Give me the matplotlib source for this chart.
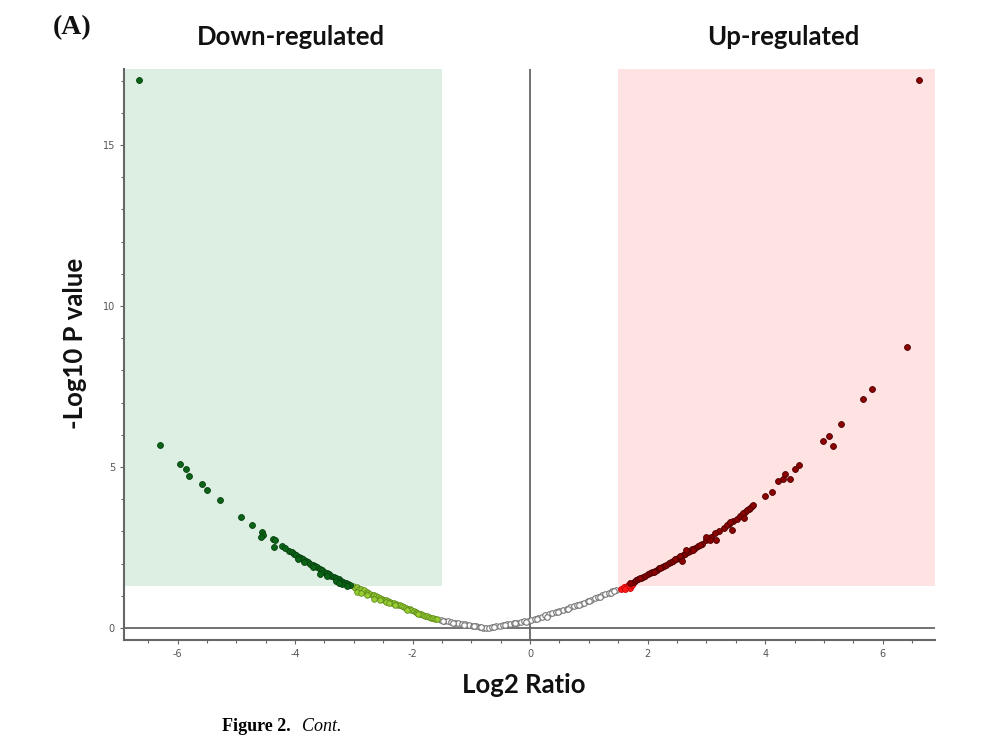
import matplotlib
matplotlib.use("Agg")
import matplotlib.pyplot as plt
from matplotlib.ticker import MultipleLocator

plt.rcParams['axes.unicode_minus'] = False

# ---- data ----
gray_x = [-1.52, -1.46, -1.40, -1.34, -1.28, -1.22, -1.16, -1.10, -1.04, -0.98,
          -0.92, -0.86, -0.80, -0.75, -0.70, -0.64, -0.58, -0.52, -0.46, -0.40,
          -0.34, -0.28, -0.22, -0.16, -0.10, -0.04, 0.02, 0.08, 0.14, 0.20,
          0.26, 0.32, 0.38, 0.44, 0.50, 0.56, 0.62, 0.68, 0.74, 0.80,
          0.86, 0.92, 0.98, 1.04, 1.10, 1.16, 1.22, 1.28, 1.34, 1.40, 1.46,
          -1.49, -1.31, -1.13, -0.95, -0.83, -0.61, -0.43, -0.25, -0.07, 0.11,
          0.29, 0.47, 0.65, 0.83, 1.01, 1.19, 1.37, 1.43]
gray_y = [0.25, 0.23, 0.21, 0.19, 0.17, 0.15, 0.13, 0.11, 0.09, 0.07,
          0.05, 0.03, 0.01, 0.00, 0.01, 0.03, 0.05, 0.07, 0.09, 0.11,
          0.13, 0.15, 0.17, 0.19, 0.21, 0.23, 0.26, 0.29, 0.32, 0.35,
          0.39, 0.42, 0.46, 0.49, 0.53, 0.56, 0.60, 0.64, 0.67, 0.71,
          0.75, 0.79, 0.83, 0.88, 0.92, 0.96, 1.01, 1.05, 1.10, 1.14, 1.18,
          0.22, 0.16, 0.10, 0.05, 0.04, 0.02, 0.08, 0.14, 0.20, 0.28,
          0.35, 0.49, 0.60, 0.70, 0.84, 0.97, 1.10, 1.15]

lgreen_x = [-3.02, -2.98, -2.95, -2.92, -2.88, -2.85, -2.82, -2.78, -2.75, -2.72,
            -2.68, -2.65, -2.62, -2.58, -2.55, -2.52, -2.48, -2.45, -2.42, -2.38,
            -2.35, -2.32, -2.28, -2.25, -2.22, -2.18, -2.15, -2.12, -2.08, -2.05,
            -2.02, -1.98, -1.95, -1.92, -1.88, -1.85, -1.82, -1.78, -1.75, -1.72,
            -1.68, -1.65, -1.62, -1.58,
            -2.95, -2.88, -2.78, -2.65, -2.55, -2.45, -2.40, -2.30, -2.10, -1.90]
lgreen_y = [1.30, 1.24, 1.27, 1.20, 1.22, 1.15, 1.18, 1.12, 1.10, 1.07,
            1.04, 1.02, 0.98, 0.96, 0.93, 0.91, 0.88, 0.86, 0.84, 0.81,
            0.79, 0.77, 0.74, 0.72, 0.70, 0.67, 0.65, 0.63, 0.60, 0.58,
            0.55, 0.52, 0.50, 0.48, 0.45, 0.43, 0.41, 0.38, 0.36, 0.34,
            0.32, 0.30, 0.28, 0.27,
            1.12, 1.08, 1.02, 0.90, 0.86, 0.80, 0.78, 0.70, 0.57, 0.44]

dgreen_x = [-4.10, -4.06, -4.02, -3.98, -3.94, -3.90, -3.86, -3.82, -3.78, -3.74,
            -3.70, -3.66, -3.62, -3.58, -3.54, -3.50, -3.46, -3.42, -3.38, -3.34,
            -3.30, -3.26, -3.22, -3.18, -3.14, -3.10, -3.06,
            -3.95, -3.85, -3.70, -3.57, -3.45, -3.30, -3.20, -3.12, -3.25,
            -6.30, -5.96, -5.86, -5.80, -5.58, -5.49, -5.27, -4.92, -4.73, -4.56,
            -4.54, -4.58, -4.38, -4.34, -4.35, -4.22, -4.17, -6.65]
dgreen_y = [2.40, 2.36, 2.31, 2.27, 2.22, 2.18, 2.14, 2.09, 2.05, 2.00,
            1.96, 1.92, 1.88, 1.84, 1.79, 1.75, 1.71, 1.67, 1.63, 1.59,
            1.55, 1.51, 1.47, 1.44, 1.40, 1.36, 1.33,
            2.15, 2.05, 1.88, 1.68, 1.60, 1.45, 1.38, 1.30, 1.40,
            5.67, 5.10, 4.93, 4.71, 4.47, 4.30, 3.98, 3.44, 3.20, 2.99,
            2.90, 2.83, 2.75, 2.72, 2.51, 2.56, 2.47, 17.02]

bred_x = [1.55, 1.60, 1.65, 1.70, 1.74, 1.62, 1.68]
bred_y = [1.22, 1.27, 1.30, 1.25, 1.33, 1.21, 1.34]

dred_x = [1.76, 1.80, 1.84, 1.88, 1.92, 1.96, 2.00, 2.04, 2.08, 2.12,
          2.16, 2.20, 2.24, 2.28, 2.32, 2.36, 2.40, 2.44, 2.48, 2.52,
          2.56, 2.60, 2.64, 2.68, 2.72, 2.76, 2.80, 2.86, 2.92, 3.00,
          3.08, 3.22, 3.30, 3.38, 3.45, 3.52, 3.60, 3.66, 3.72, 3.78,
          1.70, 1.87, 2.10, 2.21, 2.47, 2.55, 2.59, 2.66, 2.78, 2.89,
          3.00, 3.06, 3.14, 3.17, 3.35, 3.40, 3.44, 3.57, 3.62, 3.64,
          3.69, 3.74, 3.79, 4.00, 4.11, 4.22, 4.31, 4.33, 4.43, 4.51,
          4.58, 4.99, 5.08, 5.16, 5.29, 5.67, 5.81, 6.41, 6.62]
dred_y = [1.44, 1.48, 1.51, 1.55, 1.59, 1.63, 1.67, 1.70, 1.74, 1.77,
          1.81, 1.85, 1.89, 1.93, 1.97, 2.01, 2.05, 2.09, 2.14, 2.18,
          2.22, 2.27, 2.31, 2.35, 2.40, 2.44, 2.49, 2.55, 2.62, 2.73,
          2.83, 3.01, 3.12, 3.22, 3.32, 3.40, 3.52, 3.60, 3.70, 3.78,
          1.39, 1.54, 1.75, 1.85, 2.13, 2.25, 2.09, 2.42, 2.42, 2.58,
          2.83, 2.73, 2.94, 2.73, 3.21, 3.28, 3.04, 3.47, 3.57, 3.41,
          3.65, 3.72, 3.82, 4.11, 4.23, 4.56, 4.62, 4.78, 4.62, 4.94,
          5.05, 5.81, 5.96, 5.66, 6.34, 7.11, 7.41, 8.72, 17.02]

fc_cut = 1.5      # |log2 ratio| threshold
p_cut = 1.3       # -log10 p threshold
x_ticks = [-6, -4, -2, 0, 2, 4, 6]
y_ticks = [0, 5, 10, 15]

fig = plt.figure(figsize=(9.93, 7.37), dpi=100)
ax = fig.add_axes([0.1249, 0.1316, 0.8167, 0.7748])
ax.set_xlim(-6.91, 6.89)
ax.set_ylim(-0.373, 17.36)

# shaded significance regions
ax.axvspan(-6.91, -fc_cut, ymin=(p_cut + 0.373) / 17.733, ymax=1,
           color='#ddefe2', lw=0, zorder=0)
ax.axvspan(fc_cut, 6.89, ymin=(p_cut + 0.373) / 17.733, ymax=1,
           color='#ffe2e2', lw=0, zorder=0)

ax.axhline(0, color='#666666', lw=1.3, zorder=1)
ax.axvline(0, color='#666666', lw=1.3, zorder=1)

ax.scatter(gray_x, gray_y, s=16, facecolor='white', edgecolor='#777777', lw=0.8, zorder=3)
ax.scatter(lgreen_x, lgreen_y, s=16, facecolor='#9acd32', edgecolor='#5a8a1a', lw=0.6, zorder=3)
ax.scatter(dgreen_x, dgreen_y, s=18, facecolor='#0b6416', edgecolor='#064010', lw=0.6, zorder=4)
ax.scatter(bred_x, bred_y, s=18, facecolor='#ff1a1a', edgecolor='#cc0000', lw=0.6, zorder=4)
ax.scatter(dred_x, dred_y, s=18, facecolor='#8b0000', edgecolor='#4a0000', lw=0.6, zorder=4)

for side in ['top', 'right']:
    ax.spines[side].set_visible(False)
for side in ['left', 'bottom']:
    ax.spines[side].set_color('#666666')
    ax.spines[side].set_linewidth(1.5)

ax.set_xticks(x_ticks)
ax.set_yticks(y_ticks)
ax.xaxis.set_minor_locator(MultipleLocator(0.5))
ax.yaxis.set_minor_locator(MultipleLocator(1))
ax.tick_params(which='both', direction='out', colors='#666666', labelcolor='#555555',
               labelsize=7, length=3, width=0.8)
ax.tick_params(which='minor', length=2)

lab = dict(family=['Lato', 'DejaVu Sans'], weight='bold', size=18.5, color='#111111')
fig.text(0.527, 1 - 685 / 737, 'Log2 Ratio', ha='center', va='center', **lab)
fig.text(75 / 993, 1 - 343 / 737, '-Log10 P value', ha='center', va='center',
         rotation=90, **lab)
fig.text(291 / 993, 1 - 37 / 737, 'Down-regulated', ha='center', va='center', **lab)
fig.text(783 / 993, 1 - 37 / 737, 'Up-regulated', ha='center', va='center', **lab)
fig.text(72 / 993, 1 - 28 / 737, '(A)', ha='center', va='center',
         family='Liberation Serif', weight='bold', size=20, color='#111111')
fig.text(222 / 993, 2 / 737, 'Figure 2.', ha='left', va='bottom',
         family='Liberation Serif', weight='bold', size=13)
fig.text(302 / 993, 2 / 737, 'Cont.', ha='left', va='bottom',
         family='Liberation Serif', style='italic', size=13)

fig.savefig('out.png', dpi=100)
